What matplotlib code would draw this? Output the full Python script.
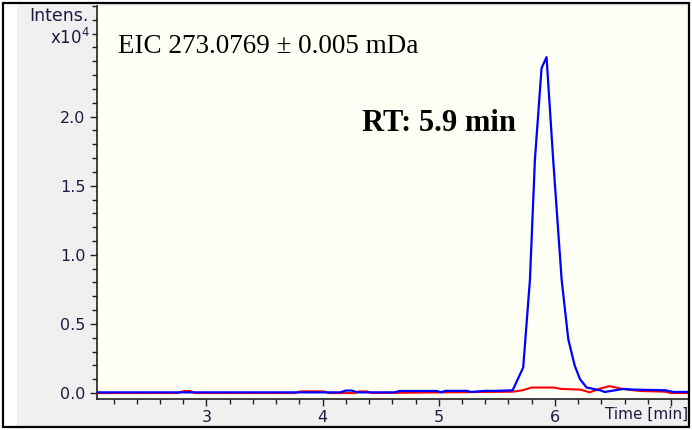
import matplotlib
matplotlib.use("Agg")
import matplotlib.pyplot as plt
from matplotlib.patches import Rectangle
from matplotlib.ticker import MultipleLocator, FixedLocator

# EIC traces, time in min, intensity in units of 1e4 counts
t_blue = [2.05, 4.15, 4.20, 4.25, 4.30, 4.62, 4.66, 4.98, 5.02, 5.06, 5.24, 5.28,
          5.40, 5.50, 5.636, 5.727, 5.785, 5.828, 5.885, 5.928, 5.985, 6.058,
          6.115, 6.17, 6.216, 6.273, 6.39, 6.43, 6.59, 6.68, 6.95, 7.02, 7.15]
i_blue = [0.005, 0.005, 0.018, 0.018, 0.005, 0.005, 0.015, 0.015, 0.006, 0.016, 0.016, 0.008,
          0.016, 0.016, 0.02, 0.185, 0.82, 1.69, 2.35, 2.43, 1.69, 0.82,
          0.39, 0.20, 0.10, 0.04, 0.02, 0.008, 0.03, 0.025, 0.02, 0.008, 0.008]

t_red = [2.05, 2.75, 2.81, 2.86, 2.90, 3.76, 3.81, 4.01, 4.05, 4.28, 4.31, 4.38, 4.42,
         5.64, 5.72, 5.80, 5.99, 6.05, 6.22, 6.30, 6.38, 6.47, 6.58, 6.73, 6.95, 7.00, 7.15]
i_red = [0.0, 0.0, 0.015, 0.015, 0.0, 0.0, 0.012, 0.012, 0.0, 0.0, 0.012, 0.012, 0.0,
         0.01, 0.02, 0.04, 0.04, 0.03, 0.025, 0.005, 0.03, 0.05, 0.03, 0.015, 0.01, 0.0, 0.0]

x_major = [3, 4, 5, 6, 7]
x_labels = ["3", "4", "5", "6", ""]
y_major = [0.0, 0.5, 1.0, 1.5, 2.0]
y_labels = ["0.0", "0.5", "1.0", "1.5", "2.0"]

W, H = 692, 430
fig = plt.figure(figsize=(W / 100, H / 100), dpi=100, facecolor="white")

# grey panel behind the axes
fig.patches.append(Rectangle((17 / W, 4 / H), 673 / W, 422 / H, transform=fig.transFigure,
                             facecolor="#f0f0f0", edgecolor="none", zorder=-1))

ax = fig.add_axes([96.5 / W, (H - 399) / H, (688 - 96.5) / W, 393 / H])
ax.set_zorder(1)
ax.set_facecolor("#fffff5")

ax.plot(t_red, i_red, color="#ff0000", lw=1.5, zorder=2)
ax.plot(t_blue, i_blue, color="#0000ff", lw=1.6, zorder=3)

ax.set_xlim(2.053, 7.146)
ax.set_ylim(-0.043, 2.80)

ax.xaxis.set_major_locator(FixedLocator(x_major))
ax.set_xticklabels(x_labels)
ax.xaxis.set_minor_locator(MultipleLocator(0.2))
ax.yaxis.set_major_locator(FixedLocator(y_major))
ax.set_yticklabels(y_labels)
ax.yaxis.set_minor_locator(MultipleLocator(0.1))

lab_col = "#1c1c40"
ax.tick_params(which="major", direction="out", length=5, width=1, colors="#222222",
               labelcolor=lab_col, labelsize=11.5, pad=3)
ax.tick_params(which="minor", direction="out", length=3.5, width=1, colors="#222222")
for s in ("top", "right"):
    ax.spines[s].set_visible(False)
for s in ("left", "bottom"):
    ax.spines[s].set_color("#222222")
    ax.spines[s].set_linewidth(1.2)

fig.text(89 / W, 1 - 16 / H, "Intens.", ha="right", va="center", fontsize=12.5, color=lab_col)
fig.text(90 / W, 1 - 38 / H, r"x10$^4$", ha="right", va="center", fontsize=12, color=lab_col)
fig.text(688 / W, 1 - 414 / H, "Time [min]", ha="right", va="center", fontsize=11,
         color=lab_col, zorder=3)

ax.text(118 / W, 1 - 53 / H, "EIC 273.0769 ± 0.005 mDa", transform=fig.transFigure,
        ha="left", va="baseline", fontsize=19.5, family="Liberation Serif", color="black")
ax.text(362 / W, 1 - 131 / H, "RT: 5.9 min", transform=fig.transFigure,
        ha="left", va="baseline", fontsize=22, family="Liberation Serif",
        fontweight="bold", color="black")

# black outer frame
fig.patches.append(Rectangle((3 / W, 3 / H), 686 / W, 424 / H, transform=fig.transFigure,
                             facecolor="none", edgecolor="black", linewidth=1.6, zorder=5))

fig.savefig("out.png", dpi=100, facecolor=fig.get_facecolor())
